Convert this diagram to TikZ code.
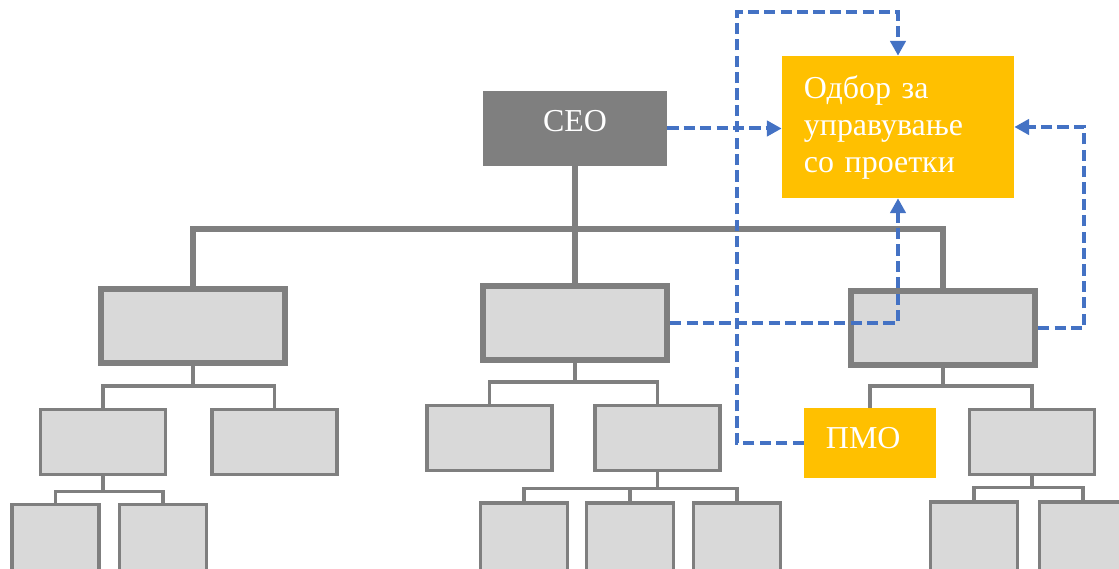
\documentclass[tikz,border=0pt]{standalone}
\usepackage{fontspec}
\setmainfont{Liberation Serif}
\usetikzlibrary{arrows.meta, positioning}

\definecolor{boxgray}{HTML}{D9D9D9}
\definecolor{linegray}{HTML}{7F7F7F}
\definecolor{amber}{HTML}{FFC000}
\definecolor{linkblue}{HTML}{4472C4}

\newcommand{\thickline}{0.155cm}
\newcommand{\thinline}{0.09cm}
\newcommand{\labelfont}{\fontsize{22.7}{26.3}\selectfont}

\tikzstyle{chief} = [% top of the hierarchy
  rectangle,
  minimum width=4.6cm,
  minimum height=1.875cm,
  text depth=0.4cm,
  fill=linegray,
  text=white,
  font=\labelfont
]
\tikzstyle{unit} = [% first level: divisions
  rectangle,
  minimum width=4.6cm,
  minimum height=1.85cm,
  draw=linegray,
  line width=\thickline,
  fill=boxgray
]
\tikzstyle{subunit} = [% second level: departments
  rectangle,
  minimum width=3.125cm,
  minimum height=1.625cm,
  draw=linegray,
  line width=\thinline,
  fill=boxgray
]
\tikzstyle{team} = [% third level: teams, run off the page
  rectangle,
  minimum width=2.175cm,
  minimum height=2cm,
  draw=linegray,
  line width=\thinline,
  fill=boxgray
]
\tikzstyle{office} = [% governance bodies
  rectangle,
  fill=amber,
  text=white,
  align=left,
  inner xsep=0.55cm,
  font=\labelfont
]
\tikzstyle{trunk} = [% main reporting line
  draw=linegray,
  line width=\thickline
]
\tikzstyle{branch} = [% lower reporting lines
  draw=linegray,
  line width=\thinline
]
\tikzstyle{link} = [% project governance links
  draw=linkblue,
  line width=0.1cm,
  dash pattern=on 0.28cm off 0.13cm,
  -{Triangle[length=0.37cm, width=0.38cm]}
]

\begin{document}
\begin{tikzpicture}[x=0.025cm, y=-0.025cm]

\useasboundingbox (0,0) rectangle (1119,569);

%%% Nodes
\node[chief] (ceo) at (575,128.5) {CEO};
\node[office, text width=4.7cm, minimum height=3.55cm] (board) at (898,127)
  {Одбор за\\управување\\со проетки};

\node[unit] (left) at (193,326) {};
\node[unit] (middle) at (575,323) {};
\node[unit] (right) at (943,328) {};

\node[subunit] (leftA) at (103,442) {};
\node[subunit] (leftB) at (274.5,442) {};
\node[subunit] (midA) at (489.5,438) {};
\node[subunit] (midB) at (657.5,438) {};
\node[office, text width=2.2cm, minimum height=1.75cm, text depth=0.25cm] (pmo) at (870,443) {ПМО};
\node[subunit] (rightB) at (1032,442) {};

\node[team] (leftA1) at (55.5,544.5) {};
\node[team] (leftA2) at (163,544.5) {};
\node[team] (midB1) at (524,543) {};
\node[team] (midB2) at (630,543) {};
\node[team] (midB3) at (737,543) {};
\node[team] (rightB1) at (974,542) {};
\node[team] (rightB2) at (1083,542) {};


%%% Hierarchy
\draw[trunk] (ceo.south) -- ++(0,63) coordinate (ceobus) -| (left.north);
\draw[trunk] (ceobus) -| (right.north);
\draw[trunk] (ceobus) -- (middle.north);

\draw[branch] (left.south) -- ++(0,20) coordinate (leftbus) -| (leftA.north);
\draw[branch] (leftbus) -| (leftB.north);
\draw[branch] (leftA.south) -- ++(0,15) coordinate (leftAbus) -| (leftA1.north);
\draw[branch] (leftAbus) -| (leftA2.north);

\draw[branch] (middle.south) -- ++(0,19) coordinate (midbus) -| (midA.north);
\draw[branch] (midbus) -| (midB.north);
\draw[branch] (midB.south) -- ++(0,16) coordinate (midBbus) -| (midB1.north);
\draw[branch] (midBbus) -| (midB2.north);
\draw[branch] (midBbus) -| (midB3.north);

\draw[branch] (right.south) -- ++(0,18) coordinate (rightbus) -| (pmo.north);
\draw[branch] (rightbus) -| (rightB.north);
\draw[branch] (rightB.south) -- ++(0,11) coordinate (rightBbus) -| (rightB1.north);
\draw[branch] (rightBbus) -| (rightB2.north);


%%% Governance links
\coordinate (pmoturn) at (737,12);
\draw[link] (ceo.east) -- (ceo.east -| board.west);
\draw[link] (pmo.west) -| (pmoturn) -| (board.north);
\draw[link] (middle.east) -| (board.south);
\draw[link] (right.east) -- ++(46,0) |- (board.east);

\end{tikzpicture}
\end{document}
